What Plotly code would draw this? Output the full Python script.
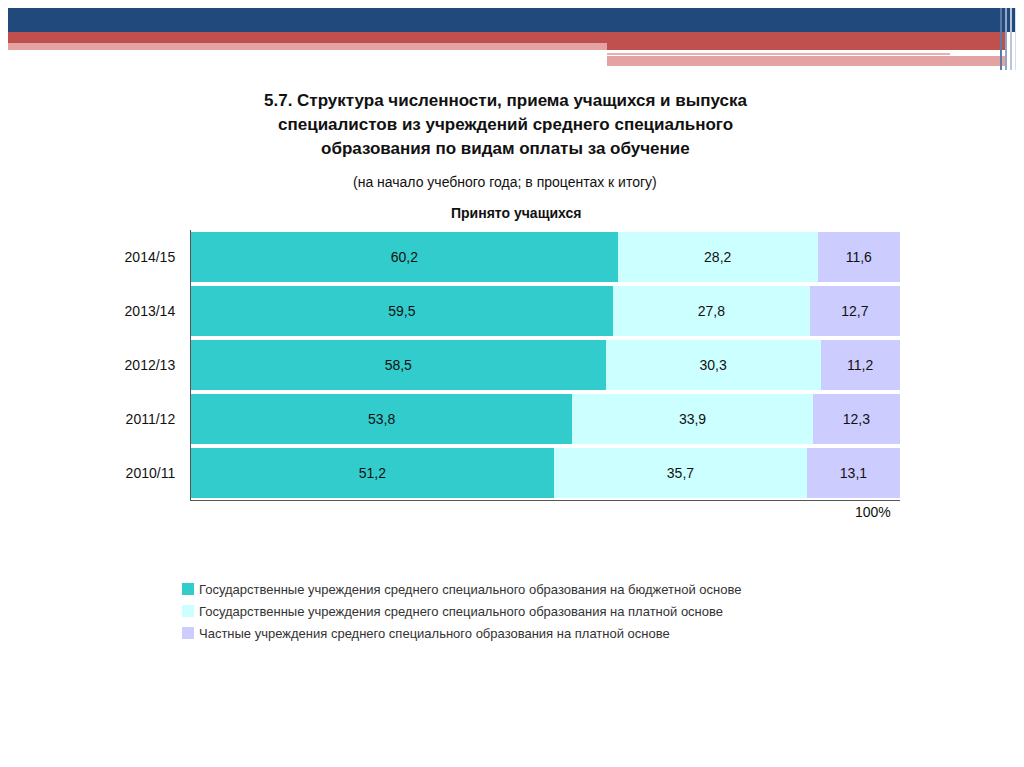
import plotly.graph_objects as go

years = ["2010/11", "2011/12", "2012/13", "2013/14", "2014/15"]
budget = [51.2, 53.8, 58.5, 59.5, 60.2]
paid_state = [35.7, 33.9, 30.3, 27.8, 28.2]
private = [13.1, 12.3, 11.2, 12.7, 11.6]
names = [
    "Государственные учреждения среднего специального образования на бюджетной основе",
    "Государственные учреждения среднего специального образования на платной основе",
    "Частные учреждения среднего специального образования на платной основе",
]
colors = ["#33CCCC", "#CCFFFF", "#CCCCFF"]

# the page puts the figure 8px in from the window edge
OFF = 8
W, H = 1024, 767
L, R, T, B = 191 - OFF, 124 + OFF, 230 - OFF, 267 + OFF
PW, PH = W - L - R, H - T - B


def px(x):
    return (x - OFF - L) / PW


def py(y):
    return (H - B - (y - OFF)) / PH


fig = go.Figure()
for vals, name, col in zip([budget, paid_state, private], names, colors):
    fig.add_trace(go.Bar(
        y=years, x=vals, orientation="h", name=name, marker_color=col,
        marker_line_width=0, text=[f"{v:.1f}".replace(".", ",") for v in vals],
        textposition="inside", insidetextanchor="middle",
        textfont=dict(size=14, color="#111"), showlegend=False,
    ))

shapes = []


def rect(x0, y0, x1, y1, color):
    shapes.append(dict(type="rect", xref="paper", yref="paper", x0=px(x0), x1=px(x1),
                       y0=py(y1), y1=py(y0), fillcolor=color, line_width=0, layer="below"))


# slide decoration
rect(0, 0, 1024, 32, "#22497B")
rect(0, 32, 1005, 43, "#C0504D")
rect(0, 43, 607, 50, "#E3A3A2")
rect(607, 43, 1005, 50, "#C0504D")
rect(607, 53, 950, 55, "#E8B0AF")
rect(607, 56, 1005, 66, "#E3A3A2")
for i, c in enumerate(["#5A7BA8", "#8FA6C6", "#B8C6DA", "#D6DEEA"]):
    rect(1000 + i * 5, 0, 1002 + i * 5, 70, c)

annotations = []
for i, (name, col) in enumerate(zip(names, colors)):
    yy = 589 + i * 22
    rect(182, yy - 6, 194, yy + 6, col)
    annotations.append(dict(xref="paper", yref="paper", x=px(197), y=py(yy), text=name,
                            showarrow=False, xanchor="left", yanchor="middle",
                            font=dict(size=13, color="#333")))

for txt, yy, sz in [
    ("<b>5.7. Структура численности, приема учащихся и выпуска</b>", 89, 17),
    ("<b>специалистов из учреждений среднего специального</b>", 113, 17),
    ("<b>образования по видам оплаты за обучение</b>", 137, 17),
    ("(на начало учебного года; в процентах к итогу)", 172, 14),
]:
    annotations.append(dict(xref="paper", yref="paper", x=px(505), y=py(yy), text=txt,
                            showarrow=False, font=dict(size=sz, color="#111")))
annotations.append(dict(xref="paper", yref="paper", x=px(516), y=py(203),
                        text="<b>Принято учащихся</b>", showarrow=False,
                        font=dict(size=14, color="#111")))
annotations.append(dict(xref="paper", yref="paper", x=px(893), y=py(522), text="100%",
                        showarrow=False, font=dict(size=14, color="#111")))

fig.update_layout(
    barmode="stack", bargap=0.07, width=W, height=H,
    margin=dict(l=L, r=R, t=T, b=B), plot_bgcolor="white", paper_bgcolor="white",
    font=dict(family="Liberation Sans, Arial", color="#111"),
    xaxis=dict(range=[0, 100], showticklabels=False, showgrid=False, zeroline=False,
               showline=True, linecolor="#555", linewidth=1, ticks=""),
    yaxis=dict(showgrid=False, showline=True, linecolor="#555", linewidth=1,
               tickfont=dict(size=14, color="#111"), ticks="", ticklabelstandoff=12),
    shapes=shapes, annotations=annotations,
)
fig.write_html("out.html")
